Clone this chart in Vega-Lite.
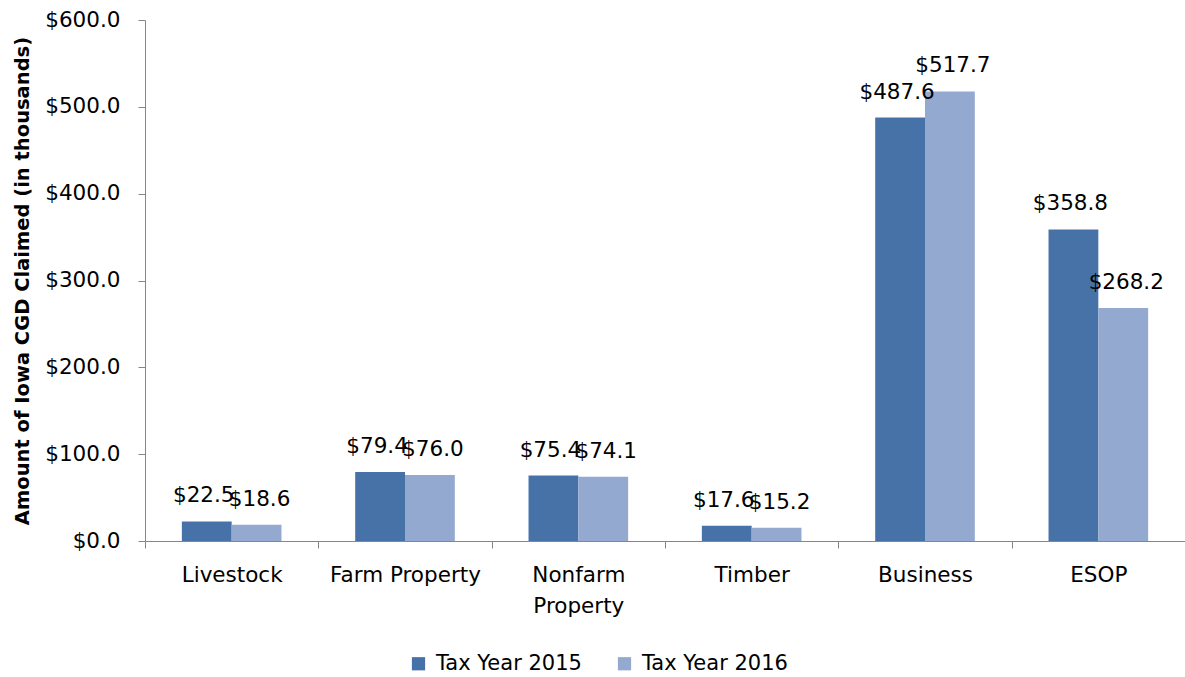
{
  "$schema": "https://vega.github.io/schema/vega-lite/v6.json",
  "width": 1040,
  "height": 521,
  "autosize": {"type": "none"},
  "padding": {"left": 145, "top": 20, "right": 0, "bottom": 136},
  "background": "white",
  "config": {
    "view": {"stroke": null},
    "font": "DejaVu Sans",
    "axis": {"domainColor": "#868686", "tickColor": "#868686", "labelColor": "#000000", "grid": false, "domainWidth": 1, "tickWidth": 1}
  },
  "data": {
    "values": [
      {"category": "Livestock", "year": "Tax Year 2015", "value": 22.5},
      {"category": "Livestock", "year": "Tax Year 2016", "value": 18.6},
      {"category": "Farm Property", "year": "Tax Year 2015", "value": 79.4},
      {"category": "Farm Property", "year": "Tax Year 2016", "value": 76.0},
      {"category": "Nonfarm Property", "year": "Tax Year 2015", "value": 75.4},
      {"category": "Nonfarm Property", "year": "Tax Year 2016", "value": 74.1},
      {"category": "Timber", "year": "Tax Year 2015", "value": 17.6},
      {"category": "Timber", "year": "Tax Year 2016", "value": 15.2},
      {"category": "Business", "year": "Tax Year 2015", "value": 487.6},
      {"category": "Business", "year": "Tax Year 2016", "value": 517.7},
      {"category": "ESOP", "year": "Tax Year 2015", "value": 358.8},
      {"category": "ESOP", "year": "Tax Year 2016", "value": 268.2}
    ]
  },
  "encoding": {
    "x": {
      "field": "category",
      "type": "nominal",
      "sort": ["Livestock", "Farm Property", "Nonfarm Property", "Timber", "Business", "ESOP"],
      "scale": {"paddingInner": 0, "paddingOuter": 0},
      "axis": {
        "title": null,
        "labelAngle": 0,
        "tickBand": "extent",
        "tickSize": 7,
        "labelPadding": 16,
        "labelFontSize": 21.5,
        "labelLineHeight": 31,
        "labelBaseline": "top",
        "labelExpr": "datum.label == 'Nonfarm Property' ? ['Nonfarm', 'Property'] : datum.label"
      }
    },
    "xOffset": {
      "field": "year",
      "type": "nominal",
      "scale": {"paddingOuter": 0.74, "paddingInner": 0}
    },
    "y": {
      "field": "value",
      "type": "quantitative",
      "scale": {"domain": [0, 600], "nice": false},
      "axis": {
        "title": "Amount of Iowa CGD Claimed (in thousands)",
        "titleFontSize": 19.5,
        "titleFontWeight": "bold",
        "titleColor": "#000000",
        "titlePadding": 12,
        "values": [0, 100, 200, 300, 400, 500, 600],
        "format": "$.1f",
        "labelFontSize": 21.5,
        "tickSize": 7,
        "labelPadding": 18
      }
    }
  },
  "layer": [
    {
      "mark": {"type": "bar"},
      "encoding": {
        "color": {
          "field": "year",
          "type": "nominal",
          "scale": {"domain": ["Tax Year 2015", "Tax Year 2016"], "range": ["#4672a8", "#94a9d0"]},
          "legend": {
            "title": null,
            "orient": "none",
            "legendX": 263,
            "legendY": 633,
            "direction": "horizontal",
            "symbolType": "square",
            "symbolSize": 175,
            "symbolStrokeWidth": 0,
            "labelFontSize": 21,
            "labelColor": "#000000",
            "labelOffset": 7,
            "columnPadding": 32
          }
        }
      }
    },
    {
      "transform": [{"filter": "datum.year == 'Tax Year 2015'"}],
      "mark": {"type": "text", "baseline": "bottom", "dy": -14, "dx": -3, "fontSize": 21.5, "color": "#000000"},
      "encoding": {
        "text": {"field": "value", "type": "quantitative", "format": "$.1f"}
      }
    },
    {
      "transform": [{"filter": "datum.year == 'Tax Year 2016'"}],
      "mark": {"type": "text", "baseline": "bottom", "dy": -14, "dx": 3, "fontSize": 21.5, "color": "#000000"},
      "encoding": {
        "text": {"field": "value", "type": "quantitative", "format": "$.1f"}
      }
    }
  ]
}
